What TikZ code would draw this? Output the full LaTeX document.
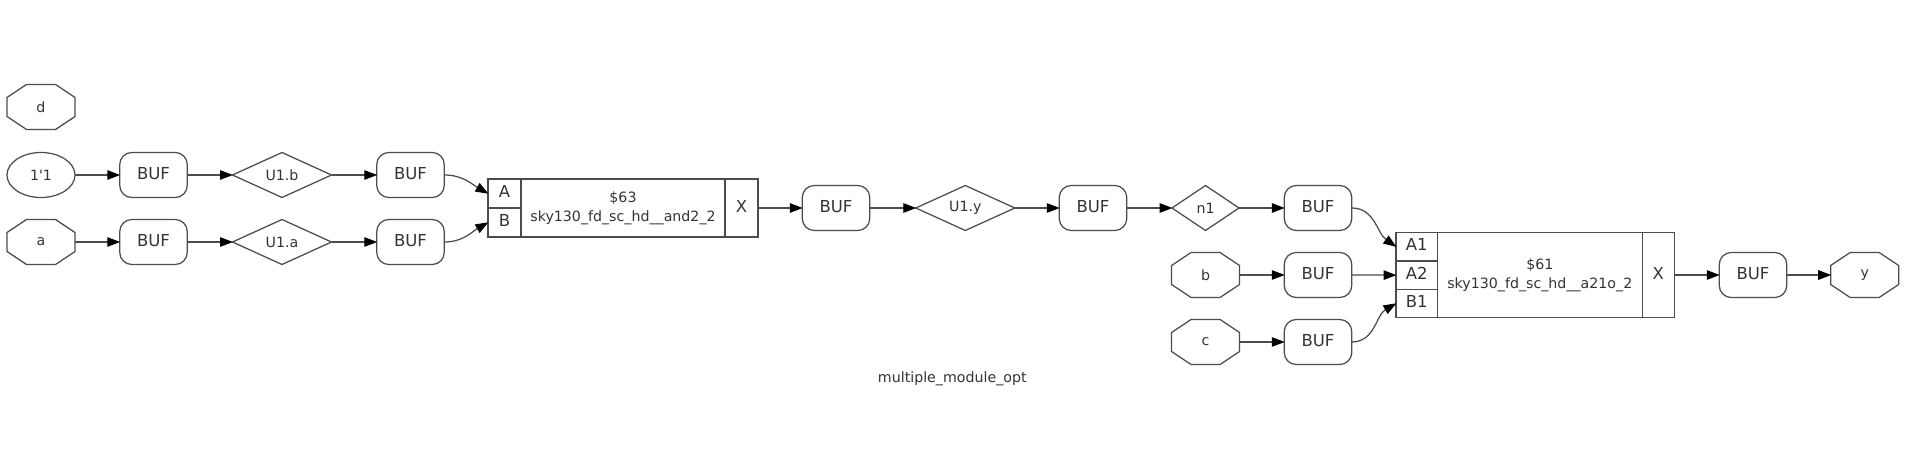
\documentclass[tikz,border=0pt]{standalone}
\usepackage{fontspec}
\setmainfont{DejaVu Sans}
\usetikzlibrary{arrows.meta,shapes.geometric}
\definecolor{ink}{gray}{0.2}
\definecolor{edge}{gray}{0.3}
\tikzset{
  base/.style={draw=edge,line width=1.25pt,text=ink,inner sep=0pt,outer sep=0pt,align=center},
  small/.style={font=\fontsize{14.2}{19}\selectfont},
  large/.style={font=\fontsize{16.5}{20}\selectfont,text depth=4pt},
  buf/.style={base,large,rectangle,rounded corners=12pt,minimum width=67.5pt,minimum height=45pt},
  pin/.style={small,text=ink,inner sep=0pt,outer sep=0pt,minimum width=68pt,minimum height=45pt},
  outline/.style={draw=edge,line width=1.25pt},
  const/.style={base,small,ellipse,minimum width=68pt,minimum height=45pt},
  wire/.style={base,diamond,small,aspect=2.2,minimum width=99pt,minimum height=45pt},
  cell/.style={base,large,rectangle,anchor=north west},
  bigcell/.style={base,small,rectangle,anchor=north west},
  conn/.style={draw=edge,line width=1.25pt,-{Triangle[length=13pt,width=9.5pt,color=black]},shorten >=-0.5pt},
}
% octagon pin: name, position, text
\newcommand{\pinnode}[3]{
  \node[pin] (#1) at (#2) {#3};
  \draw[outline] ([xshift=-14.5pt]#1.north) -- ([xshift=14.5pt]#1.north) -- ([yshift=9.5pt]#1.east)
    -- ([yshift=-9.5pt]#1.east) -- ([xshift=14.5pt]#1.south) -- ([xshift=-14.5pt]#1.south)
    -- ([yshift=-9.5pt]#1.west) -- ([yshift=9.5pt]#1.west) -- cycle;
}
\begin{document}
\begin{tikzpicture}[x=1pt,y=-1pt]
\useasboundingbox (0,0) rectangle (1913,473);
% inputs
\pinnode{d}{41,107}{d}
\node[const] (one) at (41,175) {1\textquotesingle 1};
\pinnode{a}{41,242}{a}
\pinnode{b}{1205.5,275}{b}
\pinnode{c}{1205.5,342}{c}
\pinnode{y}{1864.7,275}{y}
% buffers
\node[buf] (buf1) at (153.5,175) {BUF};
\node[buf] (buf2) at (153.5,242) {BUF};
\node[buf] (buf3) at (410.5,175) {BUF};
\node[buf] (buf4) at (410.5,242) {BUF};
\node[buf] (buf5) at (836,208) {BUF};
\node[buf] (buf6) at (1093,208) {BUF};
\node[buf] (buf7) at (1318,208) {BUF};
\node[buf] (buf8) at (1318,275) {BUF};
\node[buf] (buf9) at (1318,342) {BUF};
\node[buf] (buf10) at (1753,275) {BUF};
% nets
\node[wire] (ub) at (282,175) {U1.b};
\node[wire] (ua) at (282,242) {U1.a};
\node[wire] (uy) at (965.3,208) {U1.y};
\node[wire,aspect=1.5,minimum width=67pt] (n1) at (1205.5,208) {n1};
% and2 cell
\node[cell,minimum width=33pt,minimum height=29pt] (and_a) at (488,179) {A};
\node[cell,minimum width=33pt,minimum height=29pt] (and_b) at (488,208) {B};
\node[bigcell,minimum width=204pt,minimum height=58pt] (and_c) at (521,179) {\$63\\sky130\_fd\_sc\_hd\_\_and2\_2};
\node[cell,minimum width=33pt,minimum height=58pt] (and_x) at (725,179) {X};
% a21o cell
\node[cell,minimum width=41.3pt,minimum height=28.7pt] (aoi_a) at (1396,232.3) {A1};
\node[cell,minimum width=41.3pt,minimum height=28.3pt] (aoi_c) at (1396,261) {A2};
\node[cell,minimum width=41.3pt,minimum height=28.4pt] (aoi_d) at (1396,289.3) {B1};
\node[bigcell,minimum width=205pt,minimum height=85.4pt] (aoi_e) at (1437.3,232.3) {\$61\\sky130\_fd\_sc\_hd\_\_a21o\_2};
\node[cell,minimum width=32pt,minimum height=85.4pt] (aoi_x) at (1642.3,232.3) {X};
% title
\node[small,text=ink] (title) at (952.3,378.5) {multiple\_module\_opt};
% connections
\draw[conn] (one.east) -- (buf1.west);
\draw[conn] (a.east) -- (buf2.west);
\draw[conn] (buf1.east) -- (ub.west);
\draw[conn] (buf2.east) -- (ua.west);
\draw[conn] (ub.east) -- (buf3.west);
\draw[conn] (ua.east) -- (buf4.west);
\draw[conn] (buf3.east) to[out=0,in=150] (and_a.west);
\draw[conn] (buf4.east) to[out=0,in=210] (and_b.west);
\draw[conn] (and_x.east) -- (buf5.west);
\draw[conn] (buf5.east) -- (uy.west);
\draw[conn] (uy.east) -- (buf6.west);
\draw[conn] (buf6.east) -- (n1.west);
\draw[conn] (n1.east) -- (buf7.west);
\draw[conn] (b.east) -- (buf8.west);
\draw[conn] (c.east) -- (buf9.west);
\draw[conn] (buf7.east) to[out=0,in=145] (aoi_a.west);
\draw[conn] (buf8.east) -- (aoi_c.west);
\draw[conn] (buf9.east) to[out=0,in=210] (aoi_d.west);
\draw[conn] (aoi_x.east) -- (buf10.west);
\draw[conn] (buf10.east) -- (y.west);
\end{tikzpicture}
\end{document}
